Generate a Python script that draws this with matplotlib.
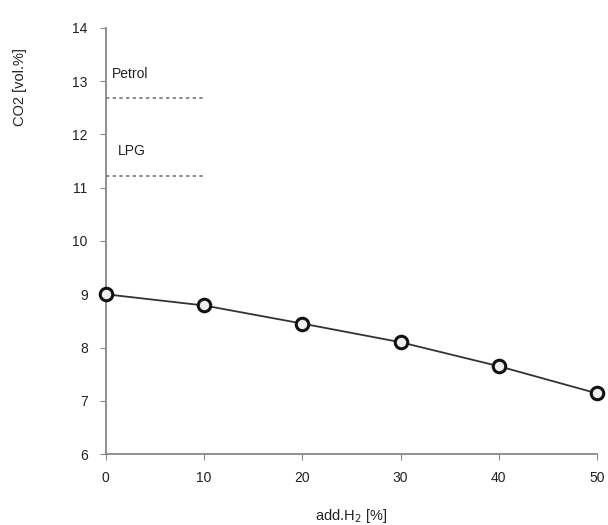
import matplotlib.pyplot as plt

h2_add = [0, 10, 20, 30, 40, 50]
co2 = [9.0, 8.79, 8.45, 8.10, 7.65, 7.14]

ref_names = ['Petrol', 'LPG']
ref_values = [12.68, 11.22]
ref_xend = 10

plt.rcParams['font.family'] = ['Liberation Sans', 'DejaVu Sans']

fig = plt.figure(figsize=(6.08, 5.25), dpi=100)
ax = fig.add_axes([0.174, 0.135, 0.808, 0.812])

ax.plot(h2_add, co2, '-', color='#333333', lw=1.3, zorder=2)
ax.plot(h2_add, co2, 'o', ms=9, mfc='#eeeeee', mec='#111111', mew=2.2,
        zorder=3, clip_on=False)

for name, val in zip(ref_names, ref_values):
    ax.plot([0, ref_xend], [val, val], linestyle=(0, (2, 2)),
            color='#777777', lw=1.2)
    ax.text(0.6 if name == 'Petrol' else 1.2, val + 0.33, name,
            fontsize=10, color='#222222', va='bottom')

ax.set_xlim(0, 50)
ax.set_ylim(6, 14)
ax.set_xticks(h2_add)
ax.set_yticks(range(6, 15))
for s in ['top', 'right']:
    ax.spines[s].set_visible(False)
for s in ['left', 'bottom']:
    ax.spines[s].set_color('#888888')
    ax.spines[s].set_linewidth(1.3)
ax.tick_params(colors='#888888', labelcolor='#222222', labelsize=10,
               length=4, direction='out')
ax.tick_params(axis='x', pad=8)
ax.tick_params(axis='y', pad=9)

ax.set_xlabel(r'add.H$_2$ [%]', fontsize=10.5, color='#222222')
ax.xaxis.set_label_coords(0.5, -0.125)
ax.set_ylabel('CO2 [vol.%]', fontsize=10.5, color='#222222')
ax.yaxis.set_label_coords(-0.16, 0.86)

fig.savefig('out.png', dpi=100, facecolor='white')
